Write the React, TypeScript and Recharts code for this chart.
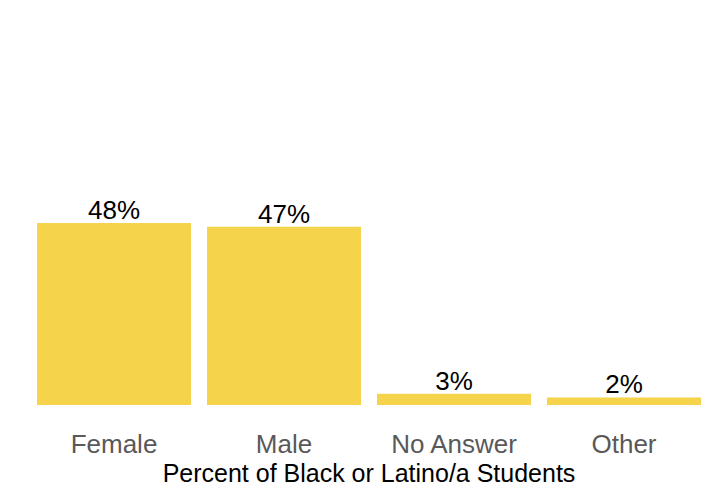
import React from 'react';
import { BarChart, Bar, XAxis, YAxis, LabelList } from 'recharts';

// Gender breakdown of Black or Latino/a students (percent)
const categories = ['Female', 'Male', 'No Answer', 'Other'];
const percents = [48, 47, 3, 2];

const data = categories.map((name, i) => ({ name, value: percents[i] }));

const FONT = '"Liberation Sans", Arial, sans-serif';

export default function App() {
  return (
    <div style={{ position: 'absolute', left: 0, top: 0, width: 707, height: 491, overflow: 'hidden', background: '#fff' }}>
      <BarChart
        width={720}
        height={491}
        data={data}
        margin={{ top: 26, right: 11, left: 29, bottom: 0 }}
        barCategoryGap={8}
        style={{ fontFamily: FONT }}
      >
        <YAxis hide domain={[0, 100]} />
        <XAxis
          dataKey="name"
          height={86}
          axisLine={false}
          tickLine={false}
          tickMargin={24}
          interval={0}
          tick={{ fill: '#595959', fontSize: 26, fontFamily: FONT }}
          label={{
            value: 'Percent of Black or Latino/a Students',
            position: 'insideBottom',
            offset: 9,
            fill: '#000',
            fontSize: 25,
            fontFamily: FONT,
          }}
        />
        <Bar dataKey="value" fill="#F5D44B" isAnimationActive={false}>
          <LabelList
            dataKey="value"
            position="top"
            offset={4}
            formatter={(v: number) => `${v}%`}
            style={{ fill: '#000', fontSize: 26, fontFamily: FONT }}
          />
        </Bar>
      </BarChart>
    </div>
  );
}
